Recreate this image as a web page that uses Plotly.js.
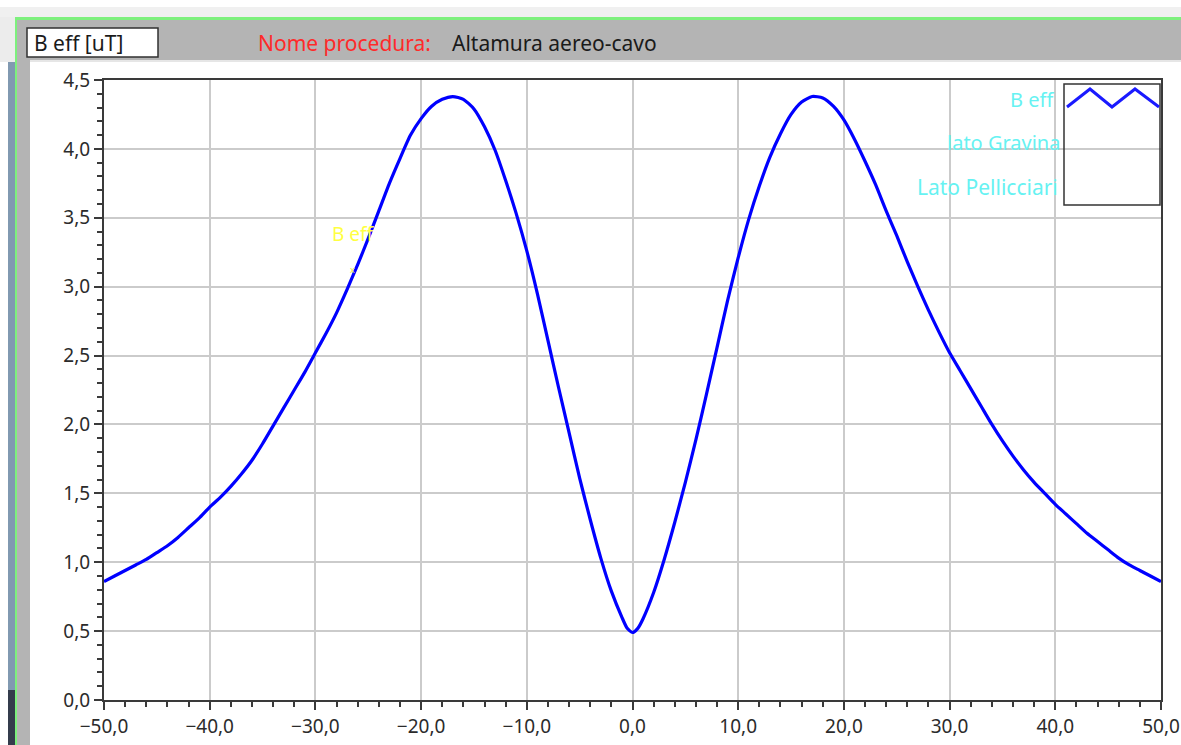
<!DOCTYPE html>
<html>
<head>
<meta charset="utf-8">
<script src="https://cdn.plot.ly/plotly-3.0.1.min.js"></script>
<style>
  html, body { margin: 0; padding: 0; background: #ffffff; }
  #chart { width: 1181px; height: 745px; }
</style>
</head>
<body>
<div id="chart"></div>
<script>
// ---- Data ----
const distance = [-50,-49,-48,-47,-46,-45,-44,-43,-42,-41,-40,-39,-38,-37,-36,-35,-34,-33,-32,-31,
  -30,-29,-28,-27,-26,-25,-24,-23,-22,-21,-20,-19,-18,-17,-16,-15,-14,-13,-12,-11,
  -10,-9,-8,-7,-6,-5,-4,-3,-2,-1,-0.5,0,0.5,1,2,3,4,5,6,7,8,9,
  10,11,12,13,14,15,16,17,18,19,20,21,22,23,24,25,26,27,28,29,
  30,31,32,33,34,35,36,37,38,39,40,41,42,43,44,45,46,47,48,49,50];
const bEff = [0.86,0.90,0.94,0.98,1.02,1.07,1.12,1.18,1.25,1.32,1.40,1.47,1.55,1.64,1.74,1.86,1.99,2.12,2.25,2.38,
  2.52,2.66,2.81,2.98,3.16,3.35,3.55,3.75,3.93,4.10,4.22,4.31,4.36,4.38,4.36,4.29,4.16,3.99,3.77,3.53,
  3.26,2.95,2.61,2.27,1.94,1.61,1.31,1.03,0.79,0.60,0.52,0.49,0.52,0.59,0.78,1.02,1.29,1.58,1.89,2.22,2.56,2.90,
  3.21,3.49,3.73,3.94,4.11,4.25,4.34,4.38,4.37,4.31,4.21,4.07,3.91,3.74,3.55,3.37,3.18,3.00,2.83,2.67,
  2.52,2.39,2.26,2.13,2.00,1.88,1.77,1.67,1.58,1.50,1.42,1.35,1.28,1.21,1.15,1.09,1.03,0.98,0.94,0.90,0.86];
const xTickStep = 10;
const yTickStep = 0.5;
const headerLabel = "B eff [uT]";
const procLabel = "Nome procedura:";
const procName = "Altamura aereo-cavo";
const legendNames = ["B eff", "lato Gravina", "Lato Pellicciari"];
const cursorName = "B eff";

// ---- Pixel -> paper helpers (plot area: x 104..1161, y 80..700) ----
const W = 1181, H = 745;
const L = 104, R = 1161, T = 80, B = 700;
const px = v => (v - L) / (R - L);
const py = v => 1 - (v - T) / (B - T);

const font = "Noto Sans, Open Sans, sans-serif";

function rect(x0, y0, x1, y1, color, line) {
  return { type: 'rect', xref: 'paper', yref: 'paper', layer: 'below',
    x0: px(x0), x1: px(x1), y0: py(y1), y1: py(y0),
    fillcolor: color, line: line || { width: 0 } };
}

const shapes = [
  rect(0, 7, W, 17, '#f0f0f0'),
  rect(0, 17, 15, 62, '#ececec'),
  rect(8, 62, 15, 690, '#8199b1'),
  rect(8, 690, 15, H, '#343c4c'),
  rect(15, 17, W, 20, '#7df07d'),
  rect(15, 17, 17, H, '#7df07d'),
  rect(17, 20, 30, H, '#b4b4b4'),
  rect(17, 20, W, 60, '#b4b4b4'),
  rect(30, 60, W, 62, '#e6e6e6'),
  rect(27, 28, 158, 57, '#ffffff', { color: '#303030', width: 1.5 }),
  // legend box
  { type: 'rect', xref: 'paper', yref: 'paper', layer: 'above',
    x0: px(1064), x1: px(1160), y0: py(205), y1: py(84),
    fillcolor: 'rgba(255,255,255,0)', line: { color: '#333333', width: 1.5 } },
  { type: 'path', xref: 'paper', yref: 'paper', layer: 'above',
    path: 'M ' + px(1067) + ' ' + py(107) + ' L ' + px(1090) + ' ' + py(89) +
          ' L ' + px(1112) + ' ' + py(107) + ' L ' + px(1135) + ' ' + py(89) +
          ' L ' + px(1159) + ' ' + py(107),
    line: { color: '#1a1aff', width: 3 } }
];

const annotations = [
  { text: headerLabel, xref: 'paper', yref: 'paper', x: px(32), y: py(43), xanchor: 'left', yanchor: 'middle',
    showarrow: false, font: { family: font, size: 21, color: '#1a1a1a' } },
  { text: procLabel, xref: 'paper', yref: 'paper', x: px(256), y: py(43), xanchor: 'left', yanchor: 'middle',
    showarrow: false, font: { family: font, size: 21, color: '#ff2a2a' } },
  { text: procName, xref: 'paper', yref: 'paper', x: px(450), y: py(43), xanchor: 'left', yanchor: 'middle',
    showarrow: false, font: { family: font, size: 21, color: '#1a1a1a' } },
  { text: legendNames[0], xref: 'paper', yref: 'paper', x: px(1056), y: py(100), xanchor: 'right', yanchor: 'middle',
    showarrow: false, font: { family: font, size: 20, color: '#66f2f2' } },
  { text: legendNames[1], xref: 'paper', yref: 'paper', x: px(1062), y: py(143), xanchor: 'right', yanchor: 'middle',
    showarrow: false, font: { family: font, size: 20, color: '#66f2f2' } },
  { text: legendNames[2], xref: 'paper', yref: 'paper', x: px(1060), y: py(187), xanchor: 'right', yanchor: 'middle',
    showarrow: false, font: { family: font, size: 21, color: '#66f2f2' } },
  { text: cursorName, xref: 'paper', yref: 'paper', x: px(330), y: py(234), xanchor: 'left', yanchor: 'middle',
    showarrow: false, font: { family: font, size: 19, color: '#ffff40' } },
  { text: 'x', xref: 'paper', yref: 'paper', x: px(352), y: py(269), xanchor: 'center', yanchor: 'middle',
    showarrow: false, font: { family: font, size: 9, color: '#e8e840' } }
];

const trace = {
  x: distance, y: bEff, type: 'scatter', mode: 'lines',
  line: { color: '#0000ff', width: 3.2, shape: 'spline', smoothing: 0.6 },
  hoverinfo: 'skip', showlegend: false
};

const axisCommon = {
  showline: true, mirror: true, linecolor: '#3a3a3a', linewidth: 2,
  ticks: 'outside', ticklen: 8, tickwidth: 2, tickcolor: '#3a3a3a',
  showgrid: true, gridcolor: '#cbcbcb', gridwidth: 2, zeroline: false,
  tickfont: { family: font, size: 19, color: '#2b2b2b' },
  tickformat: '.1f', fixedrange: true, automargin: false
};

const layout = {
  width: W, height: H,
  margin: { l: L, r: W - R, t: T, b: H - B, autoexpand: false },
  paper_bgcolor: '#ffffff', plot_bgcolor: '#ffffff',
  separators: ',.',
  showlegend: false,
  xaxis: Object.assign({}, axisCommon, {
    range: [-50, 50], tick0: -50, dtick: xTickStep,
    minor: { dtick: 2, ticks: 'outside', ticklen: 5, tickwidth: 2, tickcolor: '#3a3a3a', showgrid: false }
  }),
  yaxis: Object.assign({}, axisCommon, {
    range: [0, 4.5], tick0: 0, dtick: yTickStep,
    minor: { dtick: 0.1, ticks: 'outside', ticklen: 5, tickwidth: 2, tickcolor: '#3a3a3a', showgrid: false }
  }),
  shapes: shapes,
  annotations: annotations
};

Plotly.newPlot('chart', [trace], layout, { staticPlot: true, displayModeBar: false });
</script>
</body>
</html>
